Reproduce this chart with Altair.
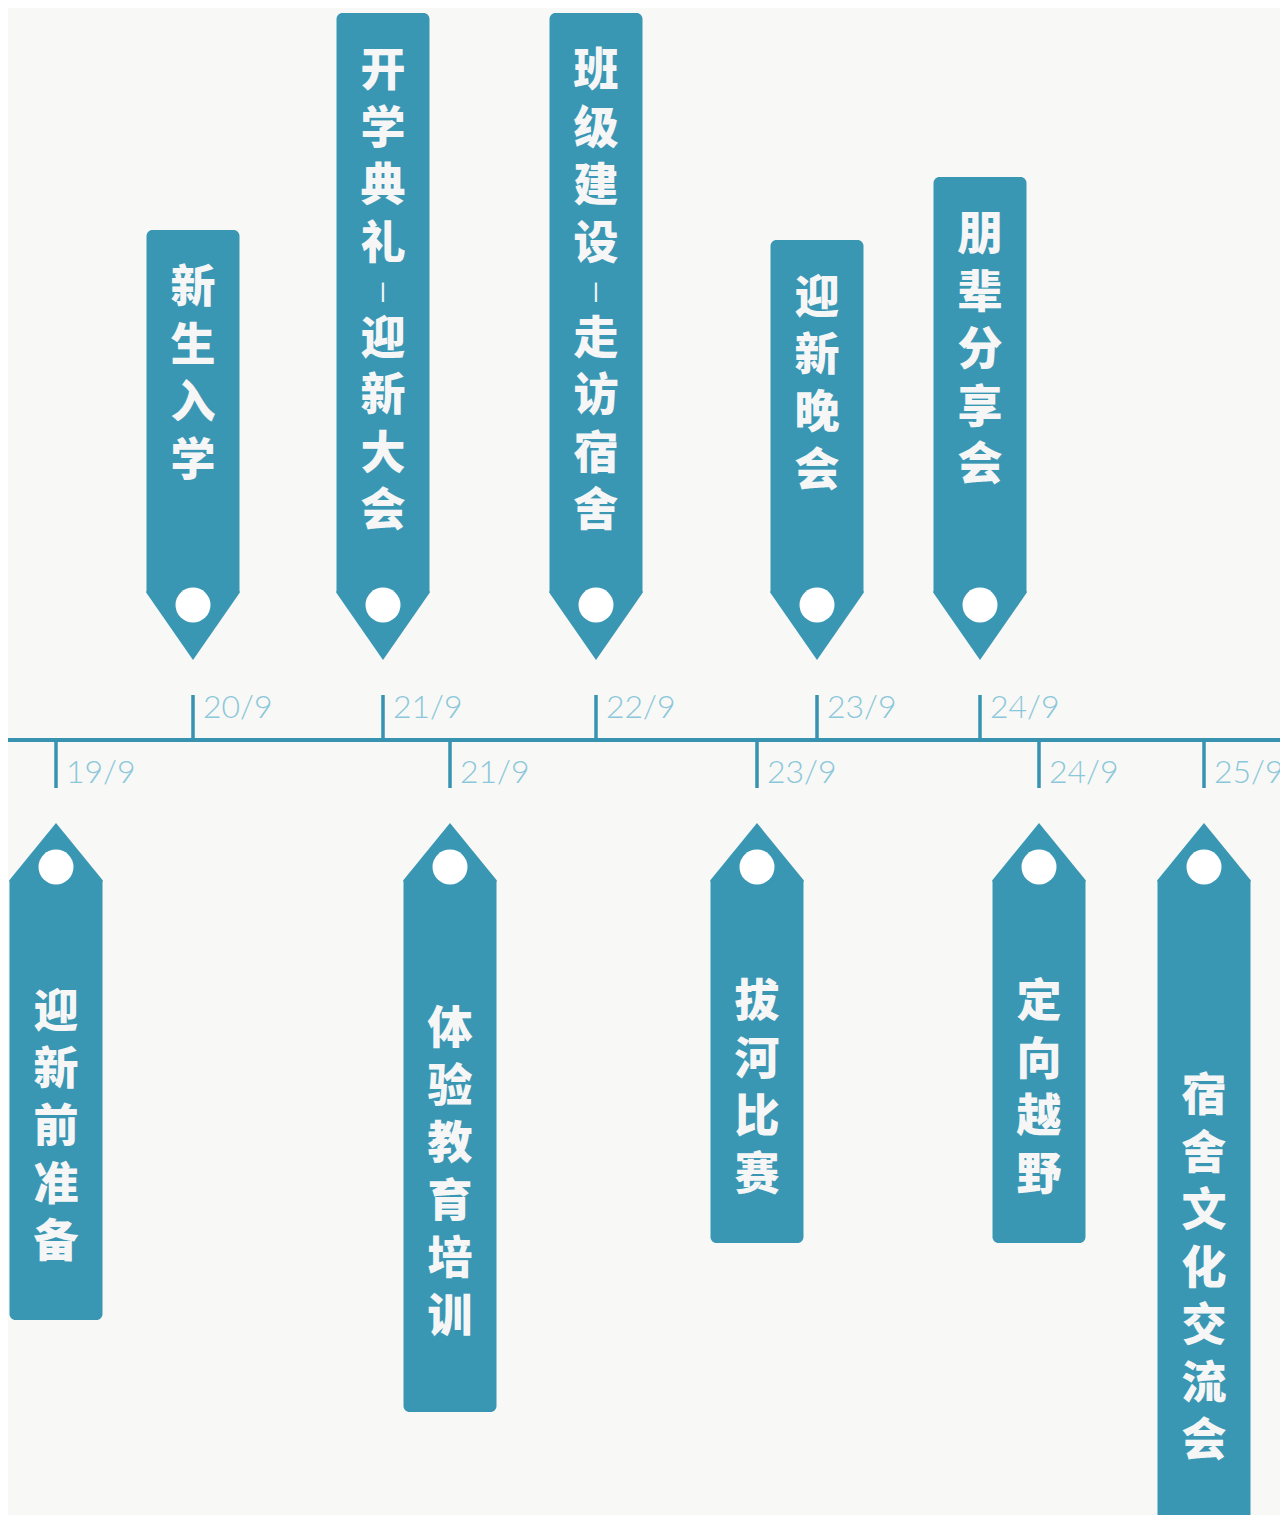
import altair as alt
import pandas as pd

# ---------------- data ----------------
top_events = ["新生入学", "开学典礼-迎新大会", "班级建设-走访宿舍", "迎新晚会", "朋辈分享会"]
top_dates = ["20/9", "21/9", "22/9", "23/9", "24/9"]
top_pos = [193, 383, 596, 817, 980]          # position along the timeline
top_len = [430, 647, 647, 420, 483]          # tag length

bottom_events = ["迎新前准备", "体验教育培训", "拔河比赛", "定向越野", "宿舍文化交流会"]
bottom_dates = ["19/9", "21/9", "23/9", "24/9", "25/9"]
bottom_pos = [56, 450, 757, 1039, 1204]
bottom_len = [497, 589, 420, 420, 780]

# ---------------- style ----------------
BG = "#f8f8f6"
TAG = "#3a97b4"
LINE = "#3793b0"
LABEL = "#8bc7da"
TXT = "#f6f6f6"
HALF_W = 46.5
GAP = {1: 80, -1: 83}
POINT = {1: 67, -1: 57}
HOLE = {1: 135, -1: 127}
TICK = {1: 45, -1: -48}
LAB_Y = {1: 32, -1: -33}
STEP = 57.5
DASH_STEP = 47.5
FS = 45

xs = alt.Scale(domain=[8, 1280], nice=False, zero=False)
ys = alt.Scale(domain=[-775, 732], nice=False, zero=False)

body_rows, point_rows, text_rows, hole_rows, tick_rows = [], [], [], [], []
groups = [(1, top_events, top_dates, top_pos, top_len),
          (-1, bottom_events, bottom_dates, bottom_pos, bottom_len)]
for s, evs, dts, pos, lens in groups:
    for i, (ev, dt, p, L) in enumerate(zip(evs, dts, pos, lens)):
        tid = f"{s}_{i}"
        far = s * (GAP[s] + L)
        near_edge = s * (GAP[s] + POINT[s])
        body_rows.append({"side": s, "x": p - HALF_W, "x2": p + HALF_W,
                          "y": far, "y2": near_edge})
        for dx, near in [(-HALF_W, near_edge), (0, s * GAP[s]), (HALF_W, near_edge)]:
            point_rows.append({"id": tid, "x": p + dx, "y": near_edge + s * 2, "y2": near})
        hole_rows.append({"x": p, "y": s * HOLE[s]})
        tick_rows.append({"x": p, "y": 0, "y2": TICK[s], "label": dt, "ly": LAB_Y[s]})
        # character offsets
        offs, o, prev_dash = [], 0.0, False
        for k, ch in enumerate(ev):
            if k > 0:
                o += DASH_STEP if (ch == "-" or prev_dash) else STEP
            offs.append(o)
            prev_dash = ch == "-"
        span = offs[-1]
        if s == 1:
            first = far - 59
        else:
            center = (near_edge + far) / 2 - 28
            first = center + span / 2
        for ch, off in zip(ev, offs):
            text_rows.append({"x": p, "y": first - off,
                              "t": "|" if ch == "-" else ch,
                              "fs": 17 if ch == "-" else FS})

body_df = pd.DataFrame(body_rows)
point_df = pd.DataFrame(point_rows)
text_df = pd.DataFrame(text_rows)
hole_df = pd.DataFrame(hole_rows)
tick_df = pd.DataFrame(tick_rows)
line_df = pd.DataFrame({"y": [0]})

X = lambda f: alt.X(f, scale=xs, axis=None)
Y = lambda f: alt.Y(f, scale=ys, axis=None, stack=None)

timeline = alt.Chart(line_df).mark_rule(color=LINE, strokeWidth=4).encode(y=Y("y:Q"))

ticks = alt.Chart(tick_df).mark_rule(color=LINE, strokeWidth=3.5).encode(
    x=X("x:Q"), y=Y("y:Q"), y2="y2:Q")

labels = alt.Chart(tick_df).mark_text(
    align="left", baseline="middle", dx=10, font="Lato", fontWeight=300,
    fontSize=32, color=LABEL, clip=True).encode(
    x=X("x:Q"), y=Y("ly:Q"), text="label:N")

body_top = alt.Chart(body_df).transform_filter("datum.side > 0").mark_bar(
    color=TAG, cornerRadiusTopLeft=6, cornerRadiusTopRight=6, clip=True).encode(
    x=X("x:Q"), x2="x2:Q", y=Y("y:Q"), y2="y2:Q")

body_bot = alt.Chart(body_df).transform_filter("datum.side < 0").mark_bar(
    color=TAG, cornerRadiusBottomLeft=6, cornerRadiusBottomRight=6, clip=True).encode(
    x=X("x:Q"), x2="x2:Q", y=Y("y:Q"), y2="y2:Q")

points = alt.Chart(point_df).mark_area(color=TAG, opacity=1, interpolate="linear", clip=True).encode(
    x=X("x:Q"), y=Y("y:Q"), y2="y2:Q", detail="id:N")

holes = alt.Chart(hole_df).mark_circle(color="#ffffff", opacity=1, size=1225).encode(
    x=X("x:Q"), y=Y("y:Q"))

texts = alt.Chart(text_df).mark_text(
    font="Noto Sans CJK SC", fontWeight=900, color=TXT,
    align="center", baseline="middle", clip=True).encode(
    x=X("x:Q"), y=Y("y:Q"), text="t:N", size=alt.Size("fs:Q", scale=None))

chart = alt.layer(timeline, ticks, labels, body_top, body_bot, points, holes, texts).properties(
    width=1272, height=1507,
    autosize=alt.AutoSizeParams(type="none"),
    padding=0,
    background=BG,
).configure_view(stroke=None, fill=BG)

chart.save("out.html", embed_options={"renderer": "svg", "actions": False})
